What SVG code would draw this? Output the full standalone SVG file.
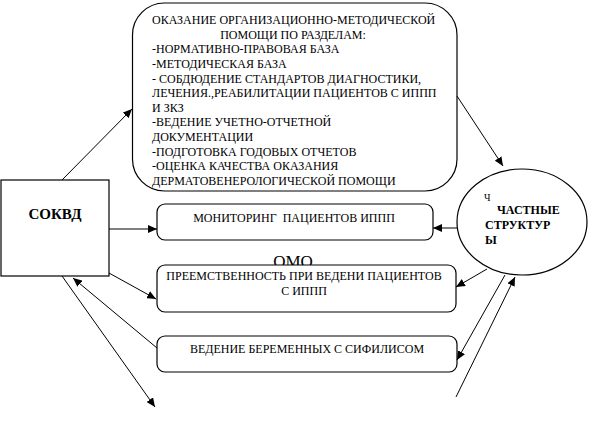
<svg xmlns="http://www.w3.org/2000/svg" width="590" height="445" viewBox="0 0 590 445" font-family="'Liberation Serif', 'DejaVu Serif', serif">
<style>
text{font-family:'Liberation Serif','DejaVu Serif',serif;fill:#000}
.t{font-size:12px}
.box{fill:#fff;stroke:#000;stroke-width:1.2}
.c line{stroke:#000;stroke-width:1;marker-end:url(#a)}
</style>
<defs>
<marker id="a" markerUnits="userSpaceOnUse" markerWidth="10" markerHeight="8" refX="9" refY="4" orient="auto">
<path d="M0,0 L9,4 L0,8 Z" fill="#000"/>
</marker>
</defs>
<rect width="590" height="445" fill="#fff"/>
<g id="omo-label"><text x="293" y="267" font-size="17" text-anchor="middle">ОМО</text></g>
<g id="sokvd">
<rect class="box" x="1" y="180" width="108" height="96"/>
<text x="55" y="219" font-size="15" font-weight="bold" text-anchor="middle">СОКВД</text>
</g>
<g id="methodical">
<rect class="box" x="132.5" y="3" width="324.5" height="188" rx="32"/>
<text class="t" x="152" y="24">ОКАЗАНИЕ ОРГАНИЗАЦИОННО-МЕТОДИЧЕСКОЙ</text>
<text class="t" x="293" y="38.6" text-anchor="middle">ПОМОЩИ ПО РАЗДЕЛАМ:</text>
<text class="t" x="152" y="53.3">-НОРМАТИВНО-ПРАВОВАЯ БАЗА</text>
<text class="t" x="152" y="67.9">-МЕТОДИЧЕСКАЯ БАЗА</text>
<text class="t" x="152" y="82.5">- СОБДЮДЕНИЕ СТАНДАРТОВ ДИАГНОСТИКИ,</text>
<text class="t" x="152" y="97.2">ЛЕЧЕНИЯ.,РЕАБИЛИТАЦИИ ПАЦИЕНТОВ С ИППП</text>
<text class="t" x="152" y="111.8">И ЗКЗ</text>
<text class="t" x="152" y="126.4">-ВЕДЕНИЕ УЧЕТНО-ОТЧЕТНОЙ</text>
<text class="t" x="152" y="141">ДОКУМЕНТАЦИИ</text>
<text class="t" x="152" y="155.7">-ПОДГОТОВКА ГОДОВЫХ ОТЧЕТОВ</text>
<text class="t" x="152" y="170.3">-ОЦЕНКА КАЧЕСТВА ОКАЗАНИЯ</text>
<text class="t" x="152" y="185">ДЕРМАТОВЕНЕРОЛОГИЧЕСКОЙ ПОМОЩИ</text>
</g>
<g id="monitoring">
<rect class="box" x="157" y="204" width="276" height="36" rx="8"/>
<text class="t" x="294" y="222" text-anchor="middle" xml:space="preserve">МОНИТОРИНГ  ПАЦИЕНТОВ ИППП</text>
</g>
<g id="continuity">
<rect class="box" x="157" y="265" width="299" height="47" rx="8"/>
<text class="t" x="304" y="280" text-anchor="middle">ПРЕЕМСТВЕННОСТЬ ПРИ ВЕДЕНИ ПАЦИЕНТОВ</text>
<text class="t" x="304" y="295" text-anchor="middle">С ИППП</text>
</g>
<g id="pregnant">
<rect class="box" x="157" y="336" width="300" height="36" rx="8"/>
<text class="t" x="307" y="353" text-anchor="middle">ВЕДЕНИЕ БЕРЕМЕННЫХ С СИФИЛИСОМ</text>
</g>
<g id="private">
<ellipse class="box" cx="522" cy="222" rx="65" ry="53" stroke-width="1"/>
<text x="484" y="201" font-size="10">Ч</text>
<text x="497" y="214" font-size="12" font-weight="bold">ЧАСТНЫЕ</text>
<text x="485" y="229" font-size="12" font-weight="bold">СТРУКТУР</text>
<text x="485" y="244" font-size="12" font-weight="bold">Ы</text>
</g>
<g id="connectors" class="c">
<line x1="62" y1="180" x2="132" y2="109"/>
<line x1="457" y1="96" x2="503" y2="166"/>
<line x1="109" y1="229" x2="157" y2="229"/>
<line x1="457" y1="228" x2="433" y2="228"/>
<line x1="109" y1="273" x2="156" y2="299"/>
<line x1="487" y1="269" x2="456" y2="287"/>
<line x1="157" y1="348" x2="73" y2="278"/>
<line x1="505" y1="275" x2="457" y2="360"/>
<line x1="62" y1="276" x2="155" y2="407"/>
<line x1="456" y1="397" x2="515" y2="277"/>
</g>
</svg>
